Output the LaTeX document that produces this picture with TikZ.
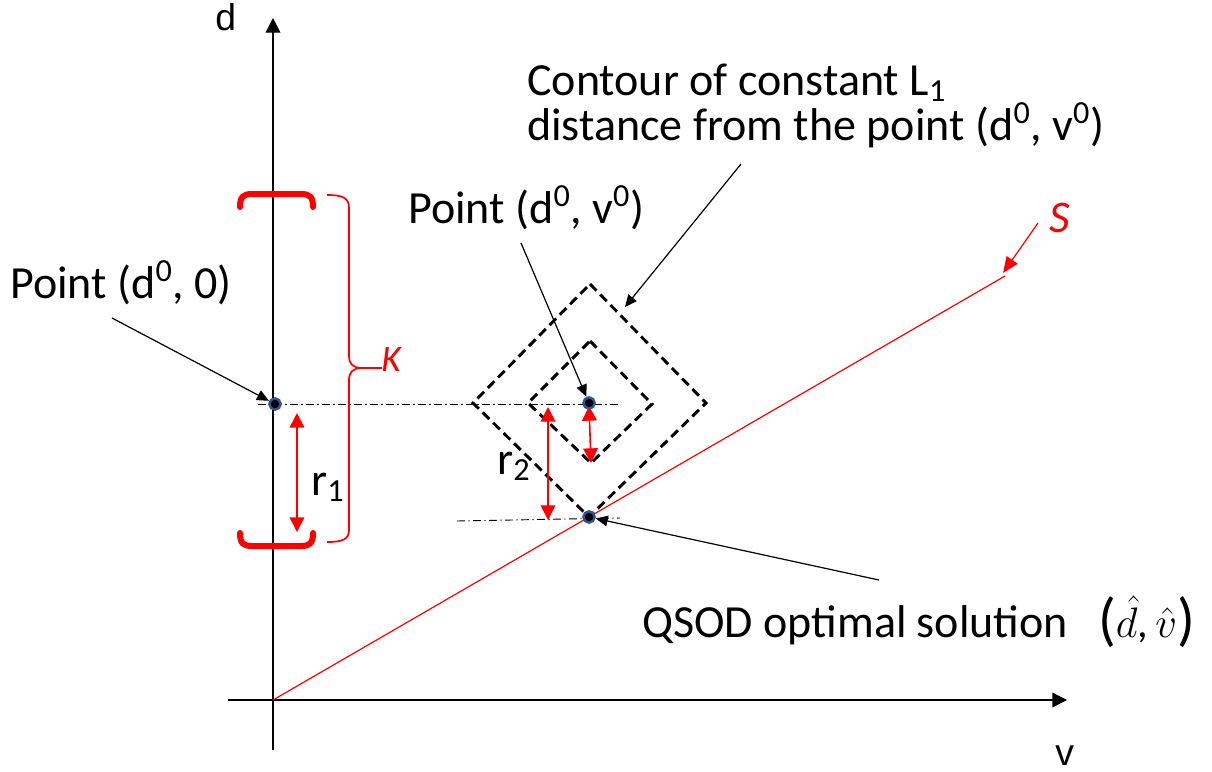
\RequirePackage{fix-cm}
\documentclass[tikz,border=0pt]{standalone}
\usepackage{fontspec}
\setmainfont{Carlito}
\newfontfamily\arialf{Liberation Sans}
\usetikzlibrary{arrows.meta}
\definecolor{dotblue}{HTML}{2F5597}
\newcommand{\bigparen}[1]{{\fontsize{44}{44}\selectfont\raisebox{-2pt}{#1}}}
\tikzset{
 txt/.style={anchor=base west, inner sep=0pt, font=\fontsize{34.5}{33.75}\selectfont},
 axlbl/.style={anchor=base west, inner sep=0pt, font=\arialf\fontsize{28}{30}\selectfont},
 ax/.style={line width=1pt, -{Triangle[length=11pt,width=11pt]}},
 callout/.style={line width=0.9pt, -{Triangle[length=9pt,width=8pt]}},
 redarr/.style={red, line width=1.2pt, {Triangle[length=11pt,width=11pt]}-{Triangle[length=11pt,width=11pt]}},
 contour/.style={line width=2.2pt, dash pattern=on 7pt off 4pt},
 dashdot/.style={line width=0.7pt, dash pattern=on 6pt off 2.5pt on 1pt off 2.5pt},
 ptdot/.style={circle, fill=black, draw=dotblue, line width=1.8pt, inner sep=0pt, minimum size=8.5pt},
 bracket/.style={red, line width=4.5pt, line cap=round},
 brace/.style={red, line width=1.3pt},
 sline/.style={red, line width=0.9pt},
}
\begin{document}
\begin{tikzpicture}[x=0.75pt,y=-0.75pt]
\useasboundingbox (0,0) rectangle (1212,771);

% axes
\coordinate (vb) at (273,750);
\coordinate (vt) at (273,18);
\coordinate (hl) at (228,700);
\coordinate (hr) at (1067,700);
\coordinate (O) at (273,700);
\draw[ax] (vb) -- (vt);
\draw[ax] (hl) -- (hr);
\node[axlbl] (dl) at (215,31) {d};
\node[axlbl] (vl) at (1055,765) {v};

% line S
\coordinate (Send) at (1005,276);
\draw[sline] (O) -- (Send);
\coordinate (Sa) at (1038,223);
\coordinate (Stip) at (1003,273);
\draw[sline, -{Triangle[length=12pt,width=10pt]}] (Sa) -- (Stip);
\node[txt, red, font=\itshape\fontsize{34}{36}\selectfont] (Sl) at (1049,232) {S};

% contours
\draw[contour] (590,284) -- (706,403) -- (589,517) -- (473,403) -- cycle;
\draw[contour] (590,341) -- (652,404) -- (591,463) -- (528,403) -- cycle;

% dash-dot lines
\draw[dashdot] (258,404) -- (620,404);
\draw[dashdot] (457,521) -- (620,518);

% brackets
\draw[bracket] (240,207) .. controls (240,197) and (243,194) .. (252,194) -- (301,194) .. controls (310,194) and (313,197) .. (313,207);
\draw[bracket] (240,533) .. controls (240,543) and (243,546) .. (252,546) -- (301,546) .. controls (310,546) and (313,543) .. (313,533);

% brace K
\draw[brace] (327,195) .. controls (343,195) and (349,198) .. (349,208) -- (349,356) .. controls (349,364) and (353,368) .. (362,368) -- (382,368);
\draw[brace] (327,542) .. controls (343,542) and (349,539) .. (349,530) -- (349,380) .. controls (349,372) and (353,368) .. (362,368);
\node[txt, red, font=\itshape\fontsize{28}{30}\selectfont] (Kl) at (381,371) {K};

% red distance arrows
\draw[redarr] (297,413) -- (297,532);
\draw[redarr] (548,407) -- (548,520);
\draw[redarr] (589,406) -- (591,463);
\node[txt] (r1) at (311,495) {r\textsubscript{1}};
\node[txt] (r2) at (497,474) {r\textsubscript{2}};

% points
\node[ptdot] (P0) at (275,404) {};
\node[ptdot] (P1) at (589,403) {};
\node[ptdot] (P2) at (589,517) {};

% labels
\node[txt] (L0) at (10,298) {Point (d\textsuperscript{0}, 0)};
\node[txt] (L1) at (408,223) {Point (d\textsuperscript{0}, v\textsuperscript{0})};
\node[txt] (C1) at (527,95) {Contour of constant L\textsubscript{1}};
\node[txt] (C2) at (527,140) {distance from the point (d\textsuperscript{0}, v\textsuperscript{0})};
\node[txt] (Q) at (642,637) {QSOD optimal solution\hspace{0.65em}\bigparen{(}{\fontsize{32}{34}\selectfont$\hat{d}$,\,$\hat{v}$}\bigparen{)}};

% callouts
\coordinate (a0) at (112,318);
\coordinate (a1) at (521,243);
\coordinate (a2) at (741,164);
\coordinate (a2t) at (625,307);
\coordinate (a3) at (879,580);
\draw[callout] (a0) -- (P0);
\draw[callout] (a1) -- (P1);
\draw[callout] (a2) -- (a2t);
\draw[callout] (a3) -- (P2);
\end{tikzpicture}
\end{document}
